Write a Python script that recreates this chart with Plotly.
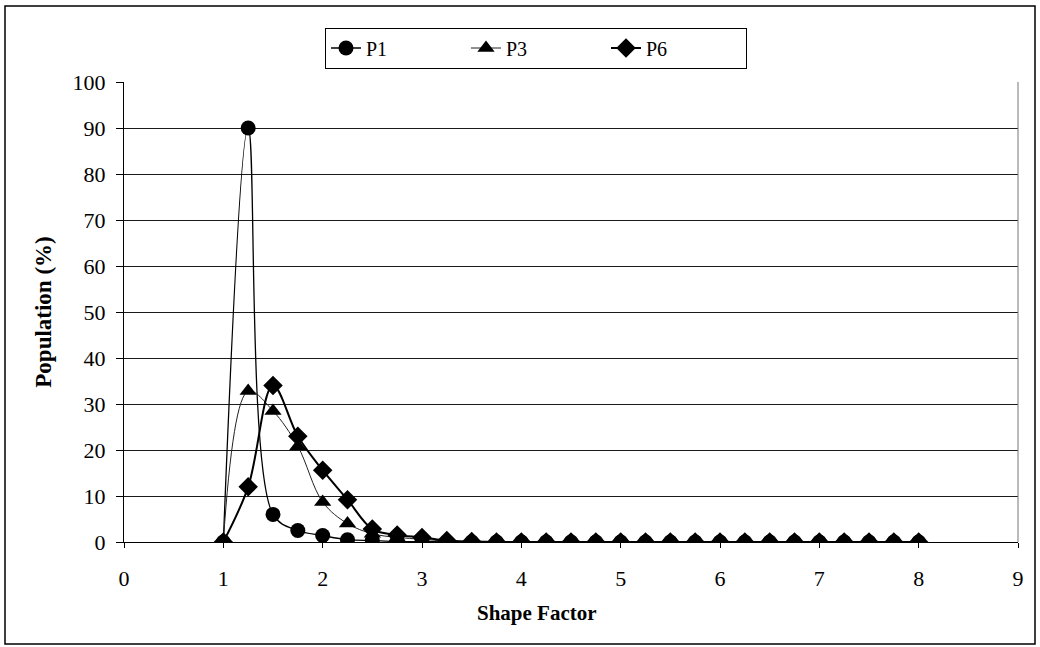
import plotly.graph_objects as go

# Shape factor bins (1.0 to 8.0 in steps of 0.25)
shape_factor = [1.0, 1.25, 1.5, 1.75, 2.0, 2.25, 2.5, 2.75, 3.0, 3.25, 3.5, 3.75,
                4.0, 4.25, 4.5, 4.75, 5.0, 5.25, 5.5, 5.75, 6.0, 6.25, 6.5, 6.75,
                7.0, 7.25, 7.5, 7.75, 8.0]

# Population percentages per sample
p1 = [0, 90, 6, 2.5, 1.4, 0.5, 0.3, 0.1, 0.1, 0, 0, 0,
      0, 0, 0, 0, 0, 0, 0, 0, 0, 0, 0, 0,
      0, 0, 0, 0, 0]
p3 = [0, 32.8, 28.5, 20.8, 8.7, 4.0, 1.8, 1.0, 0.6, 0.2, 0.1, 0,
      0, 0, 0, 0, 0, 0, 0, 0, 0, 0, 0, 0,
      0, 0, 0, 0, 0]
p6 = [0, 12, 34, 23, 15.6, 9.2, 2.8, 1.5, 1.0, 0.3, 0.1, 0,
      0, 0, 0, 0, 0, 0, 0, 0, 0, 0, 0, 0,
      0, 0, 0, 0, 0]

x_ticks = list(range(0, 10))
y_ticks = list(range(0, 101, 10))

FONT = "Liberation Serif, Times New Roman, serif"

fig = go.Figure()

fig.add_trace(go.Scatter(
    x=shape_factor, y=p1, name="P1", mode="lines+markers",
    line=dict(color="black", width=1.3, shape="spline", smoothing=1),
    marker=dict(symbol="circle", size=15, color="black"),
))
fig.add_trace(go.Scatter(
    x=shape_factor, y=p3, name="P3", mode="lines+markers",
    line=dict(color="#222222", width=1, shape="spline", smoothing=1),
    marker=dict(symbol="triangle-up", size=15, color="black"),
))
fig.add_trace(go.Scatter(
    x=shape_factor, y=p6, name="P6", mode="lines+markers",
    line=dict(color="black", width=2, shape="spline", smoothing=1),
    marker=dict(symbol="diamond", size=15, color="black"),
))

# plot area: x 124..1018, y 82..542 (px)
L, R, T, B = 124, 22, 82, 105
W, H = 1040 - L - R, 647 - T - B

def px_x(p):
    return (p - L) / W

def px_y(p):
    return (647 - B - p) / H

fig.update_layout(
    width=1040, height=647,
    margin=dict(l=L, r=R, t=T, b=B),
    paper_bgcolor="white", plot_bgcolor="white",
    font=dict(family=FONT, size=22, color="black"),
    showlegend=True,
    legend=dict(
        orientation="h",
        x=px_x(536), y=px_y(48), xanchor="center", yanchor="middle",
        bordercolor="black", borderwidth=1,
        font=dict(family=FONT, size=20),
        entrywidth=95, itemwidth=30,
        tracegroupgap=0,
    ),
    xaxis=dict(
        range=[0, 9], tickvals=x_ticks, ticks="outside", ticklen=5,
        tickcolor="black", showline=True, linecolor="black", linewidth=1,
        showgrid=False, zeroline=False, ticklabelstandoff=12,
    ),
    yaxis=dict(
        range=[0, 100], tickvals=y_ticks, ticks="outside", ticklen=7,
        tickcolor="black", showline=True, linecolor="black", linewidth=1,
        showgrid=True, gridcolor="#1a1a1a", gridwidth=1, zeroline=False,
        ticklabelstandoff=6,
        title=dict(text="<b>Population (%)</b>", font=dict(family=FONT, size=23),
                   standoff=14),
    ),
    annotations=[
        dict(text="<b>Shape Factor</b>", xref="paper", yref="paper",
             x=px_x(537), y=px_y(613), xanchor="center", yanchor="middle",
             showarrow=False, font=dict(family=FONT, size=21)),
    ],
    shapes=[
        # right edge of plot area
        dict(type="line", xref="paper", yref="paper", x0=1, x1=1, y0=0, y1=1,
             line=dict(color="#777777", width=1)),
        # outer chart frame
        dict(type="rect", xref="paper", yref="paper",
             x0=px_x(5), x1=px_x(1035), y0=px_y(644), y1=px_y(6),
             line=dict(color="black", width=1.5)),
    ],
)

fig.write_html("out.html")
